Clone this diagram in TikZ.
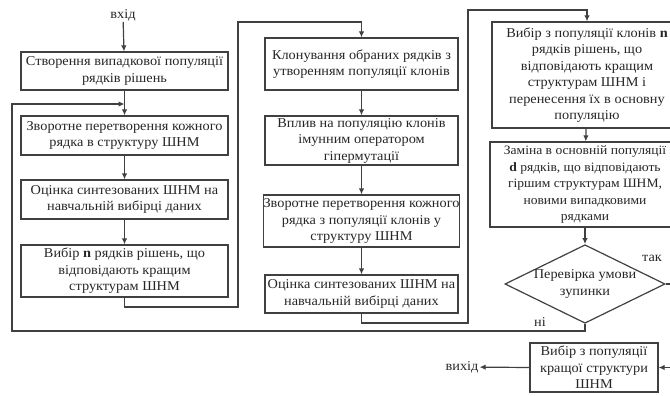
\documentclass[tikz,border=0pt]{standalone}
\usepackage{fontspec}
\setmainfont[FakeStretch=1.06]{Liberation Serif}
\usetikzlibrary{shapes.geometric,arrows.meta}

\newlength{\du}
\setlength{\du}{1pt}
\definecolor{dialinecolor}{rgb}{0.250000, 0.250000, 0.250000}

\tikzset{
  blok/.style={draw=dialinecolor, line width=1.2pt, align=center, inner sep=0pt,
    text=black!85, font=\fontsize{13.5}{16.5}\selectfont},
  napys/.style={inner sep=1pt, text=black!85, font=\fontsize{13.5}{16.5}\selectfont},
  liniya/.style={draw=dialinecolor, line width=1.2pt},
  strilka/.style={liniya, -{Latex[length=6pt,width=5.5pt]}},
}

\begin{document}
\begin{tikzpicture}
\pgftransformxscale{1.000000}
\pgftransformyscale{-1.000000}
\useasboundingbox (0,0) rectangle (670\du,396\du);
\clip (0,0) rectangle (670\du,396\du);

% column 1
\node[napys] (vhid) at (123\du,15\du) {вхід};
\node[blok, minimum width=207\du, minimum height=38\du] (b1) at (124.5\du,71\du)
  {Створення випадкової популяції\\рядків рішень};
\node[blok, minimum width=207\du, minimum height=39\du] (b2) at (124.5\du,135.5\du)
  {Зворотне перетворення кожного\\рядка в структуру ШНМ};
\node[blok, minimum width=207\du, minimum height=39\du] (b3) at (124.5\du,199.5\du)
  {Оцінка синтезованих ШНМ на\\навчальній вибірці даних};
\node[blok, minimum width=207\du, minimum height=52\du] (b4) at (124.5\du,271\du)
  {Вибір \textbf{n} рядків рішень, що\\відповідають кращим\\структурам ШНМ};

% column 2
\node[blok, minimum width=193\du, minimum height=52\du] (b5) at (361.5\du,64\du)
  {Клонування обраних рядків з\\утворенням популяції клонів};
\node[blok, minimum width=193\du, minimum height=49\du] (b6) at (361.5\du,140.5\du)
  {Вплив на популяцію клонів\\імунним оператором\\гіпермутації};
\node[blok, minimum width=193\du, minimum height=52\du] (b7) at (361.5\du,221\du)
  {Зворотне перетворення кожного\\рядка з популяції клонів у\\структуру ШНМ};
\node[blok, minimum width=193\du, minimum height=38\du] (b8) at (361.5\du,294\du)
  {Оцінка синтезованих ШНМ на\\навчальній вибірці даних};

% column 3
\node[blok, minimum width=190\du, minimum height=106\du] (b9) at (587\du,75\du)
  {Вибір з популяції клонів \textbf{n}\\рядків рішень, що\\відповідають кращим\\структурам ШНМ і\\перенесення їх в основну\\популяцію};
\node[blok, minimum width=190\du, minimum height=85\du, font=\fontsize{12.8}{16.5}\selectfont] (b10) at (585\du,184.5\du)
  {Заміна в основній популяції\\\textbf{d} рядків, що відповідають\\гіршим структурам ШНМ,\\новими випадковими\\рядками};
\node[blok, shape=diamond, aspect=2.04, minimum width=155\du, minimum height=76\du] (umova) at (585\du,284\du)
  {Перевірка умови\\зупинки};
\node[blok, minimum width=128\du, minimum height=49\du] (b11) at (594\du,367.5\du)
  {Вибір з популяції\\кращої структури\\ШНМ};
\node[napys] (vyhid) at (462\du,367\du) {вихід};
\node[napys] (tak) at (652\du,258\du) {так};
\node[napys] (ni) at (540\du,322\du) {ні};

% bends
\coordinate (vliv) at (124.5\du,104\du);
\coordinate (p1) at (238\du,307\du);
\coordinate (p2) at (238\du,22\du);
\coordinate (p3) at (468\du,323\du);
\coordinate (p4) at (468\du,10\du);
\coordinate (niz) at (585\du,331\du);
\coordinate (livo) at (12\du,104\du);
\coordinate (pravo) at (673\du,284\du);

\draw[strilka] (vhid) -- (b1);
\draw[strilka] (b1) -- (b2);
\draw[strilka] (b2) -- (b3);
\draw[strilka] (b3) -- (b4);
\draw[strilka] (b4.south) |- (p1) -- (p2) -| (b5.north);
\draw[strilka] (b5) -- (b6);
\draw[strilka] (b6) -- (b7);
\draw[strilka] (b7) -- (b8);
\draw[strilka] (b8.south) |- (p3) -- (p4) -| (b9.north);
\draw[strilka] (b9) -- (b10);
\draw[strilka] (b10) -- (umova);
\draw[strilka] (umova.south) -- (niz) -| (livo) -- (vliv);
\draw[strilka] (umova.east) -- (pravo) |- (b11.east);
\draw[strilka] (b11.west) -- (vyhid);
\end{tikzpicture}
\end{document}
